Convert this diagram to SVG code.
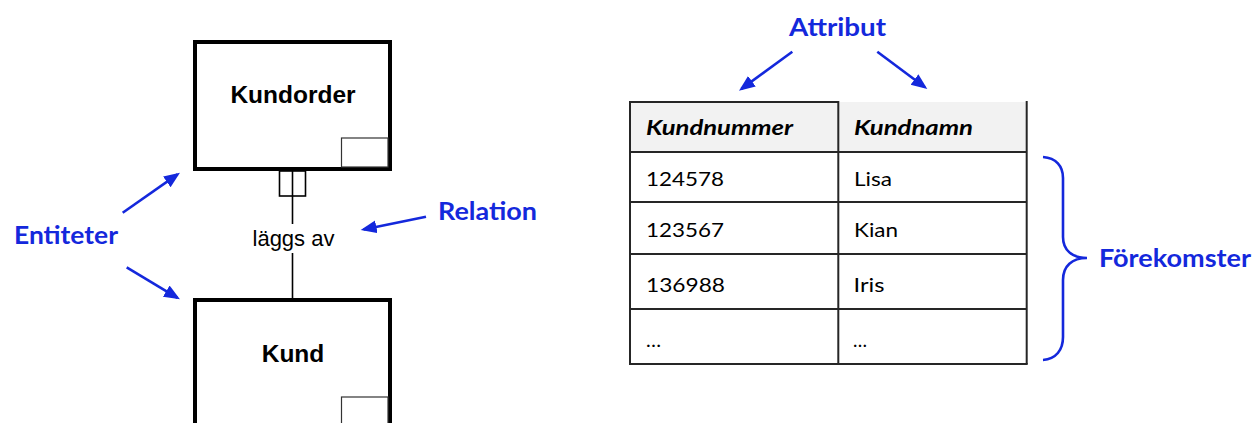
<svg xmlns="http://www.w3.org/2000/svg" width="1255" height="423" viewBox="0 0 1255 423">
<style>
.ent{fill:#fff;stroke:#000;stroke-width:4}
.corner{fill:#fff;stroke:#333;stroke-width:1.2}
.ename{font-family:"Liberation Sans",Arial,sans-serif;font-weight:bold;font-size:24.5px;fill:#000;text-anchor:middle}
.rel{font-family:"Liberation Sans",Arial,sans-serif;font-size:22px;fill:#000;text-anchor:middle}
.conn{fill:none;stroke:#000;stroke-width:1.6}
.blue{font-family:Lato,"Noto Sans",sans-serif;font-weight:bold;font-size:25px;fill:#1428dc}
.barrow{fill:none;stroke:#1428dc;stroke-width:2.6}
.grid{fill:none;stroke:#262626;stroke-width:2}
.cell{font-family:Lato,"Noto Sans",sans-serif;font-size:20px;fill:#000}
.head{font-family:Lato,"Noto Sans",sans-serif;font-size:20px;font-weight:bold;font-style:italic;fill:#000}
</style>
<defs>
<marker id="ah" markerUnits="userSpaceOnUse" markerWidth="18" markerHeight="14" refX="13" refY="6.5" orient="auto">
<path d="M0,0 L16,6.5 L0,13 z" fill="#1428dc"/>
</marker>
</defs>
<rect width="1255" height="423" fill="#fff"/>

<g id="connectors">
<rect x="279.5" y="171" width="26" height="25" class="conn"/>
<line x1="292.5" y1="171" x2="292.5" y2="224" class="conn"/>
<line x1="292.5" y1="253" x2="292.5" y2="299" class="conn"/>
<text x="293.5" y="246" class="rel">läggs av</text>
</g>

<g id="kundorder">
<rect x="195" y="42" width="195" height="127" class="ent"/>
<rect x="341.5" y="138" width="46.5" height="29" class="corner"/>
<text x="293" y="103" class="ename">Kundorder</text>
</g>

<g id="kund">
<rect x="195" y="300" width="195" height="200" class="ent"/>
<rect x="341.5" y="397" width="46.5" height="40" class="corner"/>
<text x="293" y="362" class="ename">Kund</text>
</g>

<g id="annotations">
<text x="14" y="244" class="blue" textLength="104" lengthAdjust="spacingAndGlyphs">Entiteter</text>
<line x1="122.7" y1="212.7" x2="177.5" y2="174.4" class="barrow" marker-end="url(#ah)"/>
<line x1="126.7" y1="267.3" x2="177.4" y2="297.8" class="barrow" marker-end="url(#ah)"/>
<text x="438" y="220" class="blue" textLength="99" lengthAdjust="spacingAndGlyphs">Relation</text>
<line x1="426" y1="216.7" x2="363.6" y2="229.4" class="barrow" marker-end="url(#ah)"/>
<text x="789" y="36" class="blue" textLength="97" lengthAdjust="spacingAndGlyphs">Attribut</text>
<line x1="792.3" y1="51.7" x2="741.4" y2="88.9" class="barrow" marker-end="url(#ah)"/>
<line x1="877.3" y1="51.7" x2="924.9" y2="87.2" class="barrow" marker-end="url(#ah)"/>
<path d="M1043,157 C1056,158 1063,166 1063,178 L1063,237 C1063,250 1072,258 1087,258 C1072,258 1063,266 1063,280 L1063,337 C1063,350 1056,359 1043,360" class="barrow"/>
<text x="1099" y="267" class="blue" textLength="152" lengthAdjust="spacingAndGlyphs">Förekomster</text>
</g>

<g id="table">
<rect x="630" y="102" width="397" height="50" fill="#f2f2f2"/>
<line x1="630" y1="102" x2="838.3" y2="102" class="grid"/>
<line x1="630" y1="101" x2="630" y2="364" class="grid"/>
<line x1="838.3" y1="101" x2="838.3" y2="364" class="grid"/>
<line x1="1026.7" y1="101" x2="1026.7" y2="364" class="grid"/>
<line x1="630" y1="152" x2="1026.7" y2="152" class="grid"/>
<line x1="630" y1="202" x2="1026.7" y2="202" class="grid"/>
<line x1="630" y1="254" x2="1026.7" y2="254" class="grid"/>
<line x1="630" y1="309" x2="1026.7" y2="309" class="grid"/>
<line x1="629" y1="364" x2="1027.7" y2="364" class="grid"/>
<text x="646" y="135" class="head" textLength="147" lengthAdjust="spacingAndGlyphs">Kundnummer</text>
<text x="854" y="135" class="head" textLength="119" lengthAdjust="spacingAndGlyphs">Kundnamn</text>
<text x="646" y="186" class="cell" textLength="78" lengthAdjust="spacingAndGlyphs">124578</text>
<text x="854" y="186" class="cell" textLength="38" lengthAdjust="spacingAndGlyphs">Lisa</text>
<text x="646" y="237" class="cell" textLength="78" lengthAdjust="spacingAndGlyphs">123567</text>
<text x="854" y="237" class="cell" textLength="44" lengthAdjust="spacingAndGlyphs">Kian</text>
<text x="646" y="292" class="cell" textLength="79" lengthAdjust="spacingAndGlyphs">136988</text>
<text x="853.5" y="292" class="cell" textLength="31" lengthAdjust="spacingAndGlyphs">Iris</text>
<text x="646" y="347" class="cell" textLength="15" lengthAdjust="spacingAndGlyphs">…</text>
<text x="853" y="347" class="cell" textLength="14" lengthAdjust="spacingAndGlyphs">…</text>
</g>
</svg>
